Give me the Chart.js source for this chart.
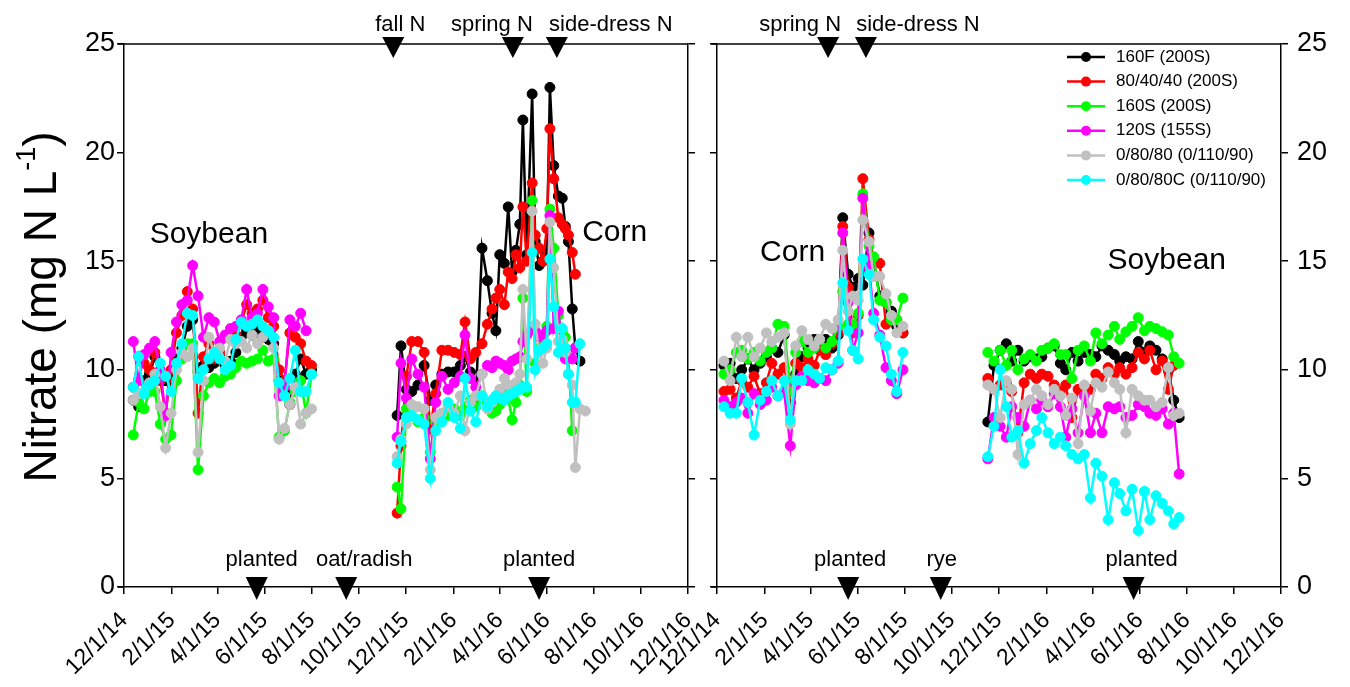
<!DOCTYPE html>
<html>
<head>
<meta charset="utf-8">
<script src="https://cdn.jsdelivr.net/npm/chart.js@4.4.0/dist/chart.umd.min.js"></script>
<style>
  body { margin: 0; background: #fff; }
  #wrap { position: relative; width: 1350px; height: 687px; }
  canvas { position: absolute; left: 0; top: 0; }
</style>
</head>
<body>
<div id="wrap">
  <canvas id="leftChart" width="1350" height="687"></canvas>
  <canvas id="rightChart" width="1350" height="687"></canvas>
</div>
<script>
// x values are days after 12/1/14
const tickDays = [0, 62, 121, 182, 243, 304, 365, 427, 487, 548, 609, 670, 731];
const tickLabels = ['12/1/14', '2/1/15', '4/1/15', '6/1/15', '8/1/15', '10/1/15', '12/1/15',
                    '2/1/16', '4/1/16', '6/1/16', '8/1/16', '10/1/16', '12/1/16'];

const seriesNames = ['160F (200S)', '80/40/40 (200S)', '160S (200S)', '120S (155S)',
                     '0/80/80 (0/110/90)', '0/80/80C (0/110/90)'];
const seriesColors = ['#000000', '#ff0000', '#00ff00', '#ff00ff', '#c0c0c0', '#00ffff'];

// ---- left panel, soybean 2015 ----
const leftSoyDays = [12, 19, 26, 33, 40, 47, 54, 61, 68, 75, 82, 89, 96, 103, 110, 117, 124,
                     131, 138, 145, 152, 159, 166, 173, 180, 187, 194, 201, 208, 215, 222, 229, 236, 243];
const leftSoyVals = [
  [8.6, 8.3, 9.5, 9.8, 10.6, 9.8, 9.5, 9.5, 10.5, 11.0, 12.0, 12.3, 9.9, 10.2, 10.1, 10.3, 10.6,
   10.2, 10.4, 10.8, 11.5, 11.8, 11.6, 11.9, 11.5, 11.4, 11.2, 9.5, 9.0, 8.4, 9.8, 10.5, 9.8, 10.0],
  [9.2, 10.6, 10.3, 10.0, 10.8, 9.5, 8.0, 10.0, 11.7, 12.5, 13.6, 12.8, 8.0, 10.6, 11.2, 10.5, 10.8,
   11.5, 11.7, 11.6, 12.2, 13.0, 12.6, 12.8, 13.2, 12.4, 12.0, 10.0, 9.5, 11.7, 11.5, 11.2, 10.4, 10.2],
  [7.0, 8.5, 8.2, 9.0, 9.0, 7.5, 6.8, 7.0, 9.5, 10.5, 11.2, 11.2, 5.4, 8.8, 9.4, 9.6, 9.4,
   9.7, 9.8, 10.1, 10.4, 10.3, 10.4, 10.5, 10.9, 10.4, 10.5, 6.9, 7.2, 8.5, 9.0, 9.5, 8.0, 9.8],
  [11.3, 9.5, 10.7, 11.0, 11.3, 10.0, 7.9, 10.8, 12.2, 13.0, 13.2, 14.8, 13.4, 11.5, 12.4, 12.2, 11.3,
   11.6, 11.9, 12.0, 12.3, 13.7, 12.4, 12.6, 13.7, 12.9, 12.4, 8.8, 9.2, 12.3, 12.0, 12.6, 11.8, null],
  [8.6, 8.9, 9.0, 9.4, 9.8, 8.3, 6.4, 8.0, 10.0, 10.8, 10.6, 11.0, 6.2, 9.5, 11.5, 10.8, 11.0,
   10.4, 11.4, 11.2, 11.3, 11.0, 11.6, 11.2, 11.5, 11.8, 11.0, 6.8, 7.3, 8.4, 9.2, 7.5, 8.0, 8.2],
  [9.2, 10.6, 8.9, 9.3, 9.5, 10.3, 9.7, 9.0, 10.3, 11.2, 12.6, 12.5, 9.6, 10.0, 10.5, 10.8, 10.5,
   10.0, 10.2, 11.4, 12.2, 12.0, 12.1, 12.3, 12.0, 11.8, 11.5, 9.4, 8.8, 9.6, 10.9, 9.0, 9.0, 9.8]
];

// ---- left panel, corn 2016 ----
const leftCornDays = [354, 359, 366, 373, 381, 389, 397, 404, 412, 420, 428, 436, 442, 449, 456, 464,
                      471, 477, 482, 487, 493, 498, 503, 508, 513, 517, 522, 529, 533, 538, 543, 548,
                      552, 557, 563, 568, 572, 576, 581, 585, 591, 598];
const leftCornVals = [
  [7.9, 11.1, 9.1, 9.0, 9.3, 10.2, 8.6, 9.3, 9.8, 9.9, 9.9, 10.2, 10.6, 9.9, 8.6, 15.6, 14.1, 12.6, 11.8,
   15.3, 14.9, 17.5, 14.5, 15.5, 16.7, 21.5, 15.3, 22.7, 15.9, 14.8, 15.0, 15.4, 23.0, 19.4, 18.0, 17.9,
   16.6, 15.9, 12.8, 11.0, 10.4, null],
  [3.4, 6.5, 9.7, 11.3, 11.3, 10.8, 7.3, 8.9, 10.9, 10.9, 10.8, 10.7, 12.2, 10.5, 10.8, 11.2, 12.1, 12.8,
   13.3, 13.7, 13.0, 14.5, 14.2, 15.3, 14.7, 17.5, 15.0, 18.6, 16.2, 15.6, 15.0, 16.5, 21.1, 18.8, 17.0,
   16.7, 16.5, 16.2, 15.4, 14.4, null, null],
  [4.6, 3.6, 8.2, 7.9, 7.6, 7.8, 6.2, 7.6, 8.0, 7.9, 8.2, 7.9, 8.3, 8.6, 8.3, 8.8, 8.5, 8.0, 8.1, 8.4,
   9.0, 8.7, 7.7, 8.5, 9.3, 13.3, 9.0, 17.8, 10.3, 11.0, 11.5, 12.0, 17.4, 15.6, 12.5, 11.8, 11.5, 10.5,
   7.2, null, null, null],
  [6.9, 10.3, 8.7, 10.5, 9.8, 9.2, 5.9, 8.5, 9.7, 9.1, 9.4, 9.7, 11.6, 9.6, 9.2, 9.8, 10.2, 10.1, 10.4,
   10.3, 10.2, 10.0, 10.4, 10.5, 10.6, 11.3, 11.6, 11.9, 11.8, 11.5, 11.6, 11.8, 17.1, 11.9, 12.7, 11.0,
   10.5, 10.6, 10.5, 11.0, null, null],
  [6.0, 6.8, 7.5, 8.4, 8.3, 8.2, 5.4, 7.8, 8.0, 8.3, 8.0, 8.8, 7.2, 8.5, 8.8, 9.8, 8.2, 8.5, 8.8, 9.1,
   9.6, 9.3, 9.0, 9.4, 9.8, 13.7, 10.5, 17.3, 12.1, 10.8, 10.3, 11.0, 16.8, 14.7, 11.3, 11.4, 10.8, 9.8,
   9.3, 5.5, 8.2, 8.1],
  [5.7, 6.7, 7.8, 7.9, 7.7, 7.5, 5.0, 7.2, 7.6, 8.5, 7.8, 7.3, 9.6, 8.1, 7.6, 8.8, 8.3, 8.6, 8.8, 8.7,
   8.6, 8.8, 8.9, 9.0, 9.1, 9.2, 9.2, 15.4, 10.0, 10.9, 11.0, 11.2, 15.1, 12.9, 10.8, 11.9, 11.0, 9.8,
   8.5, 8.5, 11.2, null]
];

// ---- right panel, corn 2015 ----
const rightCornDays = [9, 17, 25, 32, 40, 48, 56, 64, 71, 79, 87, 95, 102, 110, 118, 126,
                       133, 141, 149, 157, 163, 170, 176, 183, 189, 197, 203, 211, 219, 226, 233, 241];
const rightCornVals = [
  [10.2, 10.3, 9.6, 10.0, 10.5, 10.0, 10.3, 10.6, 11.0, 10.8, 11.6, 8.5, 9.8, 10.6, 11.0, 11.4,
   11.2, 11.4, 11.0, 11.6, 17.0, 14.4, 13.8, 14.2, 13.9, 16.3, 15.0, 13.4, 13.1, 12.7, 12.0, 11.7],
  [9.0, 9.1, 8.7, 9.5, 9.2, 9.7, 8.9, 9.4, 10.3, 9.8, 10.1, 8.9, 10.3, 10.1, 10.5, 10.2,
   10.9, 10.7, 11.2, 11.7, 16.6, 13.8, 11.7, 12.5, 18.8, 16.0, 15.1, 14.9, 12.1, 12.5, 12.3, 11.7],
  [9.8, 10.0, 10.8, 10.9, 10.5, 10.8, 10.4, 10.8, 11.0, 12.1, 12.0, 9.1, 10.8, 11.3, 10.8, 11.0,
   11.4, 11.0, 11.3, 12.0, 13.6, 12.1, 12.1, 12.6, 18.1, 15.7, 15.2, 13.2, 13.1, 12.3, 12.3, 13.3],
  [8.6, 8.3, 8.5, 8.7, 8.0, 8.9, 8.4, 8.6, 9.2, 8.8, 9.0, 6.5, 9.3, 9.7, 9.5, 9.4,
   9.6, 9.5, 10.0, 10.3, 16.3, 13.1, 10.9, 11.7, 17.9, 14.7, 12.6, 11.6, 10.1, 9.5, 8.9, 10.0],
  [10.4, 9.5, 11.5, 10.6, 11.5, 10.6, 11.0, 11.7, 11.3, 11.5, 11.7, 7.5, 11.1, 11.8, 11.4, 11.1,
   11.4, 12.1, 11.9, 12.3, 15.5, 12.7, 13.4, 13.2, 16.9, 15.9, 14.3, 14.3, 13.5, 12.5, 11.7, 12.0],
  [8.3, 8.0, 8.0, 9.6, 8.5, 7.0, 8.6, 9.0, 9.5, 8.8, 9.5, 7.7, 9.5, 9.5, 10.0, 9.8,
   9.6, 10.1, 10.0, 10.4, 14.0, 11.8, 10.9, 10.5, 15.1, 14.4, 12.3, 11.5, 11.1, 9.8, 9.0, 10.8]
];

// ---- right panel, soybean 2016 ----
const rightSoyDays = [351, 359, 367, 375, 382, 390, 398, 406, 414, 421, 429, 437, 445, 452, 460, 468,
                      476, 484, 491, 499, 507, 515, 522, 530, 538, 546, 554, 561, 569, 577, 585, 592, 599];
const rightSoyVals = [
  [7.6, 10.2, 10.9, 11.2, 10.4, 10.9, 10.4, 10.6, 10.5, 10.6, 11.0, 11.1, 10.3, 10.0, 10.8, 10.4,
   10.8, 10.7, 10.6, 11.1, 10.9, 10.7, 10.4, 10.6, 10.5, 11.3, 10.8, 11.1, 10.9, 10.5, 10.0, 8.6, 7.8],
  [9.6, 9.1, 9.3, 9.4, 9.0, 7.1, 9.4, 9.8, 9.6, 9.8, 9.7, 9.3, 9.0, 9.3, 7.8, 9.1,
   9.1, 9.1, 9.8, 9.6, 10.1, 9.8, 10.1, 9.8, 10.1, 10.8, 10.5, 10.9, 10.0, 10.4, 9.1, 10.2, null],
  [10.8, 10.4, 10.9, 10.2, 10.9, 10.0, 10.5, 10.7, 10.4, 10.9, 11.0, 11.2, 10.7, 10.7, 9.6, 10.9,
   11.1, 10.4, 11.7, 11.2, 11.6, 12.0, 11.4, 11.75, 12.0, 12.4, 11.8, 12.0, 11.9, 11.75, 11.6, 10.6, 10.3],
  [5.9, 7.8, 7.4, 6.9, 8.3, 7.8, 7.4, 8.6, 8.2, 8.6, 8.3, 8.9, 8.3, 6.9, 8.2, 7.1,
   8.8, 7.1, 8.0, 7.1, 8.3, 8.2, 8.3, 7.8, 7.9, 8.4, 8.3, 8.0, 7.9, 8.2, 7.5, 8.0, 5.2],
  [9.3, 9.1, 7.8, 9.5, 9.1, 6.1, 8.4, 8.6, 9.1, 8.8, 8.4, 9.1, 8.8, 7.9, 8.7, 6.6,
   9.3, 8.1, 9.4, 9.2, 9.9, 9.4, 9.1, 7.1, 9.1, 8.8, 8.6, 8.6, 8.3, 8.5, 10.1, 7.9, 8.0],
  [6.0, 7.4, 10.0, 8.3, 6.9, 7.2, 5.7, 6.6, 7.2, 7.8, 7.1, 6.6, 6.9, 6.5, 6.1, 5.9,
   6.1, 4.1, 5.7, 5.1, 3.1, 4.8, 4.3, 3.5, 4.5, 2.6, 4.4, 3.1, 4.2, 3.85, 3.5, 2.9, 3.2]
];

// management events (days after 12/1/14)
const leftTopDays = [349, 504, 561];
const leftTopLabels = ['fall N', 'spring N', 'side-dress N'];
const leftBottomDays = [172, 288, 538];
const leftBottomLabels = ['planted', 'oat/radish', 'planted'];
const rightTopDays = [144, 193];
const rightTopLabels = ['spring N', 'side-dress N'];
const rightBottomDays = [170, 290, 540];
const rightBottomLabels = ['planted', 'rye', 'planted'];

// crop names: [day, nitrate] where the word sits
const leftCrops = ['Soybean', 'Corn'];
const leftCropAt = [[110, 16.2], [636, 16.3]];
const rightCrops = ['Corn', 'Soybean'];
const rightCropAt = [[98, 15.4], [583, 15.0]];

const FONT = '"Liberation Sans", Arial, Helvetica, sans-serif';
Chart.defaults.font.family = FONT;
Chart.defaults.color = '#000';

function buildDatasets(segments) {
    return seriesNames.map((name, i) => {
        const pts = [];
        segments.forEach((seg, k) => {
            if (k > 0) pts.push({ x: seg.days[0] - 1, y: null });
            seg.days.forEach((d, j) => {
                const v = seg.vals[i][j];
                if (v !== null) pts.push({ x: d, y: v });
            });
        });
        return {
            label: name,
            data: pts,
            borderColor: seriesColors[i],
            backgroundColor: seriesColors[i],
            pointBackgroundColor: seriesColors[i],
            pointBorderColor: seriesColors[i],
            borderWidth: 2.5,
            pointRadius: 5,
            pointBorderWidth: 1,
            tension: 0,
            spanGaps: false,
            order: seriesNames.length - i,
        };
    });
}

function triangle(ctx, x, yTop, w, h) {
    ctx.beginPath();
    ctx.moveTo(x - w / 2, yTop);
    ctx.lineTo(x + w / 2, yTop);
    ctx.lineTo(x, yTop + h);
    ctx.closePath();
    ctx.fill();
}

function marksPlugin(cfg) {
    return {
        id: 'marks',
        afterDraw(chart) {
            const { ctx, chartArea: a, scales: { x, y } } = chart;
            ctx.save();
            ctx.strokeStyle = '#000';
            ctx.lineWidth = 1.5;
            ctx.beginPath();
            ctx.moveTo(a.left - 6, a.top);
            ctx.lineTo(a.right, a.top);
            ctx.moveTo(a.left - 6, a.bottom);
            ctx.lineTo(a.left, a.bottom);
            ctx.stroke();

            ctx.fillStyle = '#000';
            ctx.font = `22px ${FONT}`;
            ctx.textAlign = 'center';
            ctx.textBaseline = 'alphabetic';
            cfg.topDays.forEach((d, i) => {
                const px = x.getPixelForValue(d);
                triangle(ctx, px, 37, 22, 21);
                ctx.fillText(cfg.topLabels[i], px + cfg.topDx[i], 31);
            });
            cfg.bottomDays.forEach((d, i) => {
                const px = x.getPixelForValue(d);
                triangle(ctx, px, 577, 22, 23);
                ctx.fillText(cfg.bottomLabels[i], px + cfg.bottomDx[i], 566);
            });

            ctx.font = `30px ${FONT}`;
            ctx.textBaseline = 'middle';
            cfg.crops.forEach((c, i) => {
                ctx.fillText(c, x.getPixelForValue(cfg.cropAt[i][0]), y.getPixelForValue(cfg.cropAt[i][1]));
            });
            if (cfg.extra) cfg.extra(ctx, chart);
            ctx.restore();
        }
    };
}

function drawYTitle(ctx) {
    ctx.save();
    ctx.translate(43, 307);
    ctx.rotate(-Math.PI / 2);
    ctx.fillStyle = '#000';
    ctx.textBaseline = 'middle';
    ctx.textAlign = 'left';
    const big = `46px ${FONT}`, small = `27px ${FONT}`;
    ctx.font = big;
    const a = 'Nitrate (mg N L', c = ')';
    const wa = ctx.measureText(a).width, wc = ctx.measureText(c).width;
    ctx.font = small;
    const wb = ctx.measureText('-1').width;
    let x0 = -(wa + wb + wc) / 2;
    ctx.font = big;
    ctx.fillText(a, x0, 0);
    ctx.font = small;
    ctx.fillText('-1', x0 + wa, -15);
    ctx.font = big;
    ctx.fillText(c, x0 + wa + wb, 0);
    ctx.restore();
}

function drawLegend(ctx) {
    ctx.font = `17px ${FONT}`;
    ctx.textAlign = 'left';
    ctx.textBaseline = 'middle';
    seriesNames.forEach((name, i) => {
        const yy = 57 + i * 24.6;
        ctx.strokeStyle = seriesColors[i];
        ctx.fillStyle = seriesColors[i];
        ctx.lineWidth = 2.5;
        ctx.beginPath();
        ctx.moveTo(1067, yy);
        ctx.lineTo(1105, yy);
        ctx.stroke();
        ctx.beginPath();
        ctx.arc(1086, yy, 5, 0, Math.PI * 2);
        ctx.fill();
        ctx.fillStyle = '#000';
        ctx.fillText(name, 1116, yy);
    });
}

function makeChart(id, segments, opt) {
    const axisGrid = { display: true, drawOnChartArea: false, drawTicks: true, tickLength: 7, color: '#000', lineWidth: 1.5 };
    const axisBorder = { display: true, color: '#000', width: 1.5 };
    const yTicks = (show, pad) => ({ display: show, stepSize: 5, padding: pad, font: { size: 27 }, color: '#000' });
    return new Chart(document.getElementById(id), {
        type: 'line',
        data: { datasets: buildDatasets(segments) },
        options: {
            responsive: false,
            animation: false,
            layout: { padding: { top: 44, left: 0, right: 0, bottom: 0 } },
            plugins: { legend: { display: false }, tooltip: { enabled: false } },
            scales: {
                x: {
                    type: 'linear',
                    min: 0,
                    max: 731,
                    afterBuildTicks: (s) => { s.ticks = tickDays.map(v => ({ value: v })); },
                    afterFit: (s) => { s.height = 100; },
                    ticks: {
                        autoSkip: false,
                        minRotation: 45,
                        maxRotation: 45,
                        padding: 13,
                        font: { size: 23 },
                        color: '#000',
                        callback: (v) => tickLabels[tickDays.indexOf(v)],
                    },
                    grid: axisGrid,
                    border: axisBorder,
                },
                y: {
                    position: 'left',
                    min: 0,
                    max: 25,
                    afterFit: (s) => { s.width = opt.leftWidth; },
                    ticks: yTicks(opt.leftLabels, 2),
                    grid: axisGrid,
                    border: axisBorder,
                },
                y2: {
                    position: 'right',
                    min: 0,
                    max: 25,
                    afterFit: (s) => { s.width = opt.rightWidth; },
                    ticks: yTicks(opt.rightLabels, 9),
                    grid: axisGrid,
                    border: axisBorder,
                },
            },
        },
        plugins: [marksPlugin(opt.marks)],
    });
}

makeChart('leftChart', [
    { days: leftSoyDays, vals: leftSoyVals },
    { days: leftCornDays, vals: leftCornVals },
], {
    leftWidth: 124, rightWidth: 1350 - 688, leftLabels: true, rightLabels: false,
    marks: {
        topDays: leftTopDays, topLabels: leftTopLabels, topDx: [7, -21, 54],
        bottomDays: leftBottomDays, bottomLabels: leftBottomLabels, bottomDx: [5, 18, 0],
        crops: leftCrops, cropAt: leftCropAt,
        extra: (ctx) => drawYTitle(ctx),
    },
});

makeChart('rightChart', [
    { days: rightCornDays, vals: rightCornVals },
    { days: rightSoyDays, vals: rightSoyVals },
], {
    leftWidth: 717, rightWidth: 1350 - 1281, leftLabels: false, rightLabels: true,
    marks: {
        topDays: rightTopDays, topLabels: rightTopLabels, topDx: [-28, 52],
        bottomDays: rightBottomDays, bottomLabels: rightBottomLabels, bottomDx: [2, 1, 8],
        crops: rightCrops, cropAt: rightCropAt,
        extra: (ctx) => drawLegend(ctx),
    },
});
</script>
</body>
</html>
